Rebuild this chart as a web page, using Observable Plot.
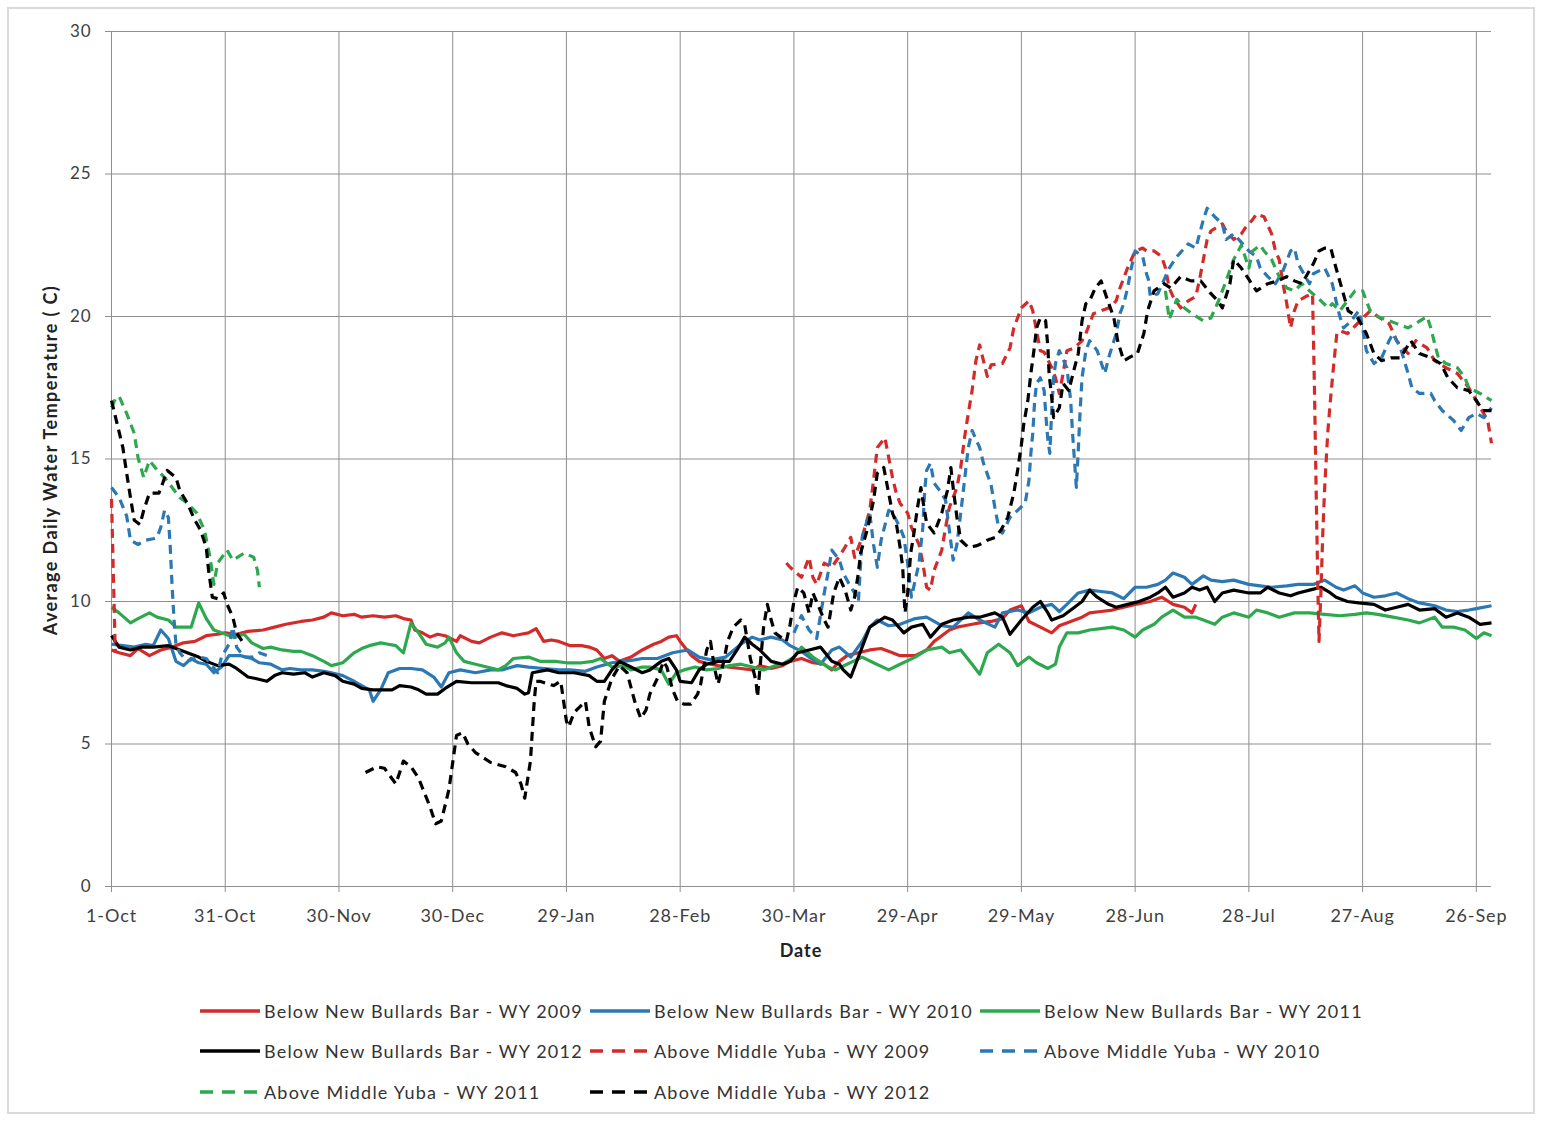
<!DOCTYPE html>
<html>
<head>
<meta charset="utf-8">
<script src="https://cdn.jsdelivr.net/npm/d3@7"></script>
<script src="https://cdn.jsdelivr.net/npm/@observablehq/plot@0.6"></script>
<style>
  html, body { margin: 0; padding: 0; background: #fff; }
  #wrap { position: relative; width: 1544px; height: 1122px; font-family: Lato, "Open Sans", sans-serif; color: #333; overflow: hidden; }
  #frame { position: absolute; left: 7px; top: 7px; width: 1528px; height: 1107px; border: 2px solid #dadada; box-sizing: border-box; }
  #chart { position: absolute; left: 0; top: 0; }
  #chart svg text { letter-spacing: 0.9px; }
  .lbl { position: absolute; font-weight: bold; font-size: 18px; color: #222; white-space: nowrap; letter-spacing: 1.4px; }
  #ylab { left: 50px; top: 460px; transform: translate(-50%, -50%) rotate(-90deg); }
  #xlab { left: 801px; top: 950px; transform: translate(-50%, -50%); letter-spacing: 1px; }
  .leg { position: absolute; display: flex; align-items: center; font-size: 18px; letter-spacing: 1.2px; color: #333; white-space: nowrap; transform: translateY(-50%); }
  .leg svg { margin-right: 4px; }
</style>
</head>
<body>
<div id="wrap">
  <div id="frame"></div>
  <div id="chart"></div>
  <div id="ylab" class="lbl">Average Daily Water Temperature ( C)</div>
  <div id="xlab" class="lbl">Date</div>
  <div id="legend"></div>
</div>
<script>
// ---- axis ticks ----
const tickDays = [0, 30, 60, 90, 120, 150, 180, 210, 240, 270, 300, 330, 360];
const tickLabels = ["1-Oct", "31-Oct", "30-Nov", "30-Dec", "29-Jan", "28-Feb", "30-Mar", "29-Apr", "29-May", "28-Jun", "28-Jul", "27-Aug", "26-Sep"];
const yTicks = [0, 5, 10, 15, 20, 25, 30];

// ---- series: [day since 1-Oct, temperature C]; null = gap ----
const belowWY2009 = [[0,8.3],[2,8.2],[5,8.1],[7,8.35],[10,8.1],[13,8.3],[16,8.4],[19,8.55],[22,8.6],[25,8.8],[28,8.85],[30,8.9],[33,8.85],[36,8.95],[40,9.0],[43,9.1],[46,9.2],[50,9.3],[53,9.35],[56,9.45],[58,9.6],[61,9.5],[64,9.55],[66,9.45],[69,9.5],[72,9.45],[75,9.5],[77,9.4],[79,9.35],[80,9.0],[82,8.9],[84,8.75],[86,8.85],[88,8.8],[91,8.6],[92,8.8],[95,8.6],[97,8.55],[100,8.75],[103,8.9],[106,8.8],[108,8.85],[110,8.9],[112,9.05],[114,8.6],[116,8.65],[118,8.6],[121,8.45],[124,8.45],[126,8.4],[128,8.3],[130,8.0],[132,8.1],[134,7.9],[137,8.05],[140,8.3],[143,8.5],[145,8.6],[147,8.75],[149,8.8],[150,8.6],[153,8.1],[155,7.9],[158,7.8],[160,7.75],[163,7.7],[166,7.65],[169,7.6],[171,7.75],[174,7.65],[177,7.75],[179,7.9],[182,8.0],[185,7.85],[188,7.8],[190,7.6],[192,7.9],[194,8.1],[197,8.2],[200,8.3],[203,8.35],[206,8.2],[208,8.1],[212,8.1],[215,8.3],[217,8.6],[219,8.8],[221,9.0],[223,9.1],[225,9.15],[227,9.2],[229,9.25],[232,9.3],[235,9.4],[237,9.7],[240,9.85],[242,9.3],[245,9.1],[248,8.9],[250,9.15],[253,9.3],[256,9.45],[258,9.6],[261,9.65],[264,9.7],[267,9.8],[270,9.9],[274,10.0],[277,10.15],[280,9.9],[283,9.8],[285,9.6],[286,9.9]];

const belowWY2010 = [[0,8.5],[3,8.45],[6,8.4],[9,8.5],[11,8.45],[13,9.0],[15,8.7],[17,7.9],[19,7.75],[21,8.0],[23,7.85],[25,7.8],[27,7.5],[29,7.7],[31,8.1],[34,8.1],[37,8.0],[39,7.85],[42,7.8],[45,7.6],[47,7.65],[50,7.6],[53,7.6],[56,7.55],[58,7.5],[61,7.4],[64,7.2],[66,7.05],[68,6.9],[69,6.5],[71,6.9],[73,7.5],[76,7.65],[79,7.65],[82,7.6],[85,7.35],[87,7.0],[89,7.5],[92,7.6],[96,7.5],[100,7.6],[103,7.6],[107,7.75],[110,7.7],[114,7.65],[118,7.6],[121,7.6],[125,7.55],[128,7.7],[132,7.85],[135,7.9],[138,7.95],[140,8.0],[144,8.0],[148,8.2],[152,8.3],[155,8.05],[158,7.95],[162,8.05],[166,8.5],[169,8.75],[171,8.65],[174,8.75],[177,8.65],[179,8.45],[182,8.25],[184,8.05],[187,7.8],[190,8.3],[192,8.4],[195,8.05],[198,8.6],[200,9.1],[202,9.35],[205,9.15],[208,9.2],[212,9.4],[215,9.45],[219,9.15],[222,9.1],[226,9.6],[229,9.35],[233,9.1],[235,9.6],[239,9.7],[242,9.6],[245,9.8],[248,9.9],[250,9.65],[252,9.9],[255,10.3],[258,10.4],[261,10.35],[264,10.3],[267,10.1],[270,10.5],[273,10.5],[276,10.6],[278,10.75],[280,11.0],[283,10.85],[285,10.6],[288,10.9],[290,10.75],[293,10.7],[296,10.75],[300,10.6],[303,10.55],[306,10.5],[310,10.55],[313,10.6],[317,10.6],[320,10.75],[323,10.5],[325,10.4],[328,10.55],[330,10.3],[333,10.15],[336,10.2],[339,10.3],[342,10.1],[345,9.95],[349,9.85],[352,9.7],[355,9.65],[358,9.7],[360,9.75],[364,9.85]];

const belowWY2011 = [[0,9.8],[2,9.6],[5,9.25],[7,9.4],[10,9.6],[12,9.45],[15,9.35],[17,9.1],[19,9.1],[21,9.1],[23,9.95],[25,9.4],[27,9.0],[29,8.9],[32,8.75],[35,8.85],[37,8.55],[40,8.35],[42,8.4],[45,8.3],[48,8.25],[50,8.25],[53,8.1],[56,7.9],[58,7.75],[61,7.85],[64,8.2],[66,8.35],[68,8.45],[71,8.55],[73,8.5],[75,8.45],[77,8.2],[79,9.25],[81,8.9],[83,8.5],[86,8.4],[88,8.55],[89,8.75],[91,8.2],[93,7.9],[96,7.8],[99,7.7],[102,7.6],[104,7.75],[106,8.0],[110,8.05],[113,7.9],[117,7.9],[120,7.85],[124,7.85],[127,7.9],[129,8.0],[132,7.7],[135,7.75],[137,7.6],[140,7.7],[142,7.7],[145,7.6],[147,7.1],[149,7.5],[151,7.6],[154,7.7],[157,7.6],[160,7.65],[163,7.75],[166,7.8],[169,7.7],[172,7.6],[175,7.75],[177,7.8],[180,8.05],[182,8.4],[185,8.05],[189,7.7],[191,7.6],[194,7.8],[198,8.05],[201,7.85],[205,7.6],[208,7.8],[212,8.05],[215,8.3],[219,8.4],[221,8.2],[224,8.3],[227,7.8],[229,7.45],[231,8.2],[234,8.5],[237,8.2],[239,7.75],[242,8.05],[244,7.85],[247,7.65],[249,7.8],[250,8.4],[252,8.9],[255,8.9],[258,9.0],[261,9.05],[264,9.1],[267,9.0],[270,8.75],[272,9.0],[275,9.2],[277,9.45],[280,9.7],[283,9.45],[286,9.45],[288,9.35],[291,9.2],[293,9.45],[296,9.6],[300,9.45],[302,9.7],[305,9.6],[308,9.45],[312,9.6],[316,9.6],[320,9.55],[324,9.5],[328,9.55],[331,9.6],[334,9.55],[338,9.45],[342,9.35],[345,9.25],[349,9.45],[351,9.1],[354,9.1],[357,9.0],[360,8.7],[362,8.9],[364,8.8]];

const belowWY2012 = [[0,8.8],[2,8.4],[5,8.3],[8,8.4],[11,8.4],[15,8.45],[17,8.35],[20,8.2],[23,8.05],[25,7.9],[28,7.75],[31,7.8],[33,7.65],[36,7.35],[38,7.3],[41,7.2],[43,7.4],[45,7.5],[48,7.45],[51,7.5],[53,7.35],[56,7.5],[59,7.4],[61,7.2],[64,7.1],[66,6.95],[69,6.9],[72,6.9],[74,6.9],[76,7.05],[79,7.0],[81,6.9],[83,6.75],[86,6.75],[88,6.95],[91,7.2],[95,7.15],[99,7.15],[102,7.15],[104,7.05],[107,6.95],[109,6.75],[110,6.8],[111,7.5],[115,7.6],[118,7.5],[122,7.5],[126,7.4],[128,7.2],[130,7.2],[132,7.6],[134,7.9],[137,7.7],[140,7.5],[142,7.6],[145,7.9],[147,8.0],[149,7.6],[150,7.2],[153,7.15],[155,7.6],[157,7.8],[160,7.9],[163,7.9],[165,8.3],[167,8.75],[169,8.5],[171,8.3],[174,7.9],[177,7.8],[179,7.9],[181,8.2],[184,8.3],[187,8.4],[190,7.9],[192,7.8],[193,7.6],[195,7.35],[198,8.4],[200,9.1],[204,9.45],[206,9.35],[209,8.9],[211,9.1],[214,9.2],[216,8.75],[219,9.2],[222,9.35],[226,9.45],[229,9.45],[233,9.6],[235,9.45],[237,8.85],[240,9.35],[243,9.8],[245,10.0],[247,9.6],[248,9.35],[251,9.5],[254,9.8],[256,10.0],[258,10.4],[260,10.15],[263,9.9],[265,9.8],[268,9.9],[271,10.0],[274,10.15],[276,10.3],[278,10.5],[280,10.15],[283,10.3],[285,10.5],[287,10.4],[289,10.5],[291,10.0],[293,10.3],[296,10.4],[300,10.3],[303,10.3],[305,10.5],[308,10.3],[311,10.2],[313,10.3],[316,10.4],[319,10.5],[321,10.35],[323,10.15],[326,10.0],[329,9.95],[333,9.9],[336,9.7],[339,9.8],[342,9.9],[345,9.7],[349,9.75],[352,9.45],[355,9.6],[358,9.45],[361,9.2],[364,9.25]];

const aboveWY2009 = [[0,13.6],[1,8.2],[2,null],[178,11.35],[179,11.2],[182,10.85],[184,11.55],[185,10.85],[186,10.6],[188,11.35],[190,11.2],[193,11.8],[195,12.25],[196,11.55],[198,12.25],[200,13.2],[201,14.25],[202,15.4],[204,15.75],[205,15.05],[206,14.35],[207,13.8],[208,13.45],[210,13.1],[211,12.6],[213,12.0],[214,11.35],[215,10.5],[216,10.4],[217,11.1],[219,11.8],[220,12.6],[221,13.3],[223,14.0],[224,14.7],[225,15.75],[226,16.6],[227,17.4],[228,18.45],[229,19.0],[231,17.9],[232,18.3],[235,18.35],[237,18.9],[238,19.6],[240,20.3],[242,20.55],[243,20.2],[244,19.5],[245,18.8],[246,18.75],[248,18.2],[249,17.85],[250,17.3],[251,18.0],[252,18.8],[254,18.9],[256,19.15],[257,19.4],[259,20.1],[261,20.2],[263,20.3],[265,20.55],[266,21.0],[268,21.7],[270,22.3],[272,22.4],[273,22.3],[275,22.3],[277,22.1],[278,21.7],[279,21.0],[280,20.7],[282,20.3],[284,20.55],[286,20.7],[287,21.3],[288,22.0],[289,22.7],[290,23.0],[293,23.25],[294,23.0],[296,22.7],[298,22.9],[299,23.1],[301,23.4],[302,23.6],[304,23.5],[306,22.9],[307,22.3],[308,22.0],[309,21.15],[310,20.45],[311,19.6],[312,20.2],[313,20.55],[315,20.7],[316.8,20.8],[317.3,17.5],[317.8,13.5],[318.2,10.5],[318.5,8.6],[319,10.3],[319.5,12.4],[320,14.0],[320.8,15.9],[321.5,17.05],[322.3,18.2],[323.2,19.4],[324,19.5],[326,19.4],[329,19.8],[332,20.2],[334,20.0],[337,19.75],[339,19.15],[342,18.7],[344,19.15],[347,18.9],[349,18.45],[352,18.2],[355,18.0],[358,17.5],[360,17.05],[363,16.35],[364,15.55]];

const aboveWY2010 = [[0,14.0],[2,13.65],[4,13.0],[5,12.15],[7,12.0],[9,12.15],[11,12.2],[12,12.25],[13,12.6],[14,13.2],[15,12.95],[15.5,11.9],[16,10.5],[16.5,9.35],[17,8.5],[18,8.2],[20,7.9],[23,8.05],[25,8.0],[28,7.5],[29,8.05],[31,8.5],[32,9.1],[33,8.4],[35,8.05],[37,8.05],[39,8.2],[42,8.05],[43,null],[180,8.9],[182,9.5],[184,9.0],[186,8.7],[187,9.5],[188,10.3],[189,11.0],[190,11.8],[192,11.45],[193,11.0],[195,10.5],[196,10.3],[197,10.0],[198,12.25],[199,12.7],[200,13.1],[201,12.0],[202,11.2],[203,12.15],[205,13.2],[206,13.1],[208,12.6],[209,12.25],[210,11.35],[211,10.15],[212,10.75],[213,11.35],[214,12.6],[214.5,13.9],[215,14.6],[216,14.85],[217,14.15],[219,13.8],[220,13.55],[221,12.5],[222,11.45],[223,12.0],[224,13.1],[225,14.25],[226,15.4],[227,16.0],[229,15.4],[230,14.85],[232,14.1],[233,13.3],[234,12.6],[235,12.4],[237,12.95],[239,13.2],[241,13.45],[242,14.25],[242.5,15.2],[243,15.9],[243.5,17.05],[244,17.65],[245,17.85],[246,17.4],[246.5,16.45],[247,15.65],[247.5,15.2],[248,16.7],[248.5,17.85],[249,18.35],[250,18.8],[252,18.2],[253,17.05],[253.5,15.9],[254,14.95],[254.5,14.0],[255,15.3],[255.5,16.7],[256,17.85],[257,18.8],[258,19.15],[260,18.8],[262,18.0],[263,18.55],[265,19.4],[266,20.1],[267,20.45],[268,21.0],[269,21.7],[270,22.3],[272,22.1],[273,21.5],[273.5,21.3],[274,20.7],[276,20.8],[278,21.4],[279,21.7],[281,22.1],[284,22.55],[286,22.4],[287,22.9],[288,23.4],[289,23.8],[291,23.5],[293,23.25],[294,22.7],[296,22.9],[298,22.6],[300,22.3],[302,22.1],[303,21.7],[305,21.4],[307,21.15],[309,21.6],[311,22.3],[312,22.4],[313,21.85],[316,21.15],[317,21.5],[320,21.7],[322,21.15],[323,20.55],[324,20.0],[325,19.6],[327,19.85],[329,20.2],[330,19.6],[331,18.8],[333,18.35],[335,18.55],[337,19.15],[338,19.4],[340,18.9],[342,18.0],[343,17.5],[345,17.3],[348,17.3],[349,17.05],[351,16.7],[354,16.35],[356,16.0],[358,16.45],[360,16.6],[362,16.45],[364,16.8]];

const aboveWY2011 = [[0,16.8],[1,17.1],[2,17.2],[4,16.6],[6,15.9],[7,15.05],[8.5,14.35],[10,14.95],[11.5,14.7],[14,14.35],[16,14.0],[18,13.65],[20,13.45],[22.5,13.1],[24.5,12.5],[26,11.55],[27,10.6],[28,11.35],[30.5,11.8],[32,11.45],[35,11.7],[37.5,11.55],[38.5,11.1],[39,10.5],[40,null],[278,20.9],[279,19.9],[281,20.6],[283,20.3],[285,20.1],[288,19.85],[290,19.95],[292,20.55],[294,21.25],[296,22.0],[298,22.5],[300,21.7],[301,22.3],[303,22.5],[304,22.3],[306,22.0],[308,21.4],[310,21.0],[312,20.9],[314,21.15],[316,20.9],[319,20.55],[321,20.3],[322,20.45],[324,20.2],[326,20.55],[328,20.9],[330,20.9],[332,20.2],[334,20.0],[337,19.85],[339,19.75],[342,19.6],[344,19.75],[347,20.0],[348,19.6],[349,19.05],[350,18.55],[352,18.35],[355,18.2],[357,17.85],[358,17.5],[361,17.3],[364,17.05]];

const aboveWY2012 = [[0,17.05],[1,16.5],[3,15.4],[4,14.5],[5,13.65],[6,12.85],[7.5,12.7],[8.5,13.2],[10,13.8],[12.5,13.8],[13.5,14.15],[14.7,14.6],[17,14.35],[18,13.9],[20,13.45],[22,12.85],[23.5,12.5],[25,11.9],[25.6,11.1],[26.6,10.15],[28,10.1],[29.6,10.3],[30.5,9.9],[32,9.45],[33,8.9],[35,8.5],[36,null],[67,4.0],[70,4.2],[72,4.15],[75,3.6],[77,4.4],[79,4.2],[81,3.8],[84,2.8],[85.5,2.2],[87,2.3],[89,3.4],[91,5.3],[92.6,5.4],[94,5.0],[96,4.7],[100,4.35],[104,4.2],[106.6,4.0],[108,3.6],[109,3.1],[110.5,4.4],[111.5,6.5],[112,7.2],[113,7.2],[116.6,7.05],[118.5,7.2],[120,5.8],[120.6,5.6],[122,6.1],[125,6.5],[126,5.6],[127.7,4.9],[129,5.1],[130,6.5],[132,7.3],[134,7.75],[136,7.5],[138,6.5],[139.6,5.9],[141,6.2],[142,6.75],[144,7.3],[145.6,7.9],[146.5,7.7],[148,6.9],[149.3,6.5],[151,6.4],[152.8,6.4],[154.6,6.75],[155.4,7.1],[157,8.3],[158,8.6],[159,7.7],[160,7.1],[161.5,7.9],[162.5,8.6],[164,9.1],[166,9.35],[167,9.2],[168.5,8.0],[170,7.2],[170.4,6.65],[171,7.6],[172,9.1],[173,9.9],[174,9.35],[175,8.9],[178,8.6],[179,9.2],[180,10.0],[181,10.5],[182.6,10.3],[184,9.6],[185,10.3],[186.6,9.8],[188,9.35],[189,9.1],[190.5,10.3],[192,10.85],[193.5,10.4],[195,9.7],[196,10.15],[197,11.0],[197.6,11.7],[199.5,12.6],[201,13.55],[202,14.5],[203.7,14.7],[204.7,14.0],[206,13.1],[207,12.75],[208,11.9],[208.7,11.2],[209,10.3],[209.3,9.6],[210,10.3],[210.8,11.7],[211.5,12.25],[212.6,13.3],[213.5,14.0],[214.3,13.3],[215,12.75],[217,12.4],[219,13.1],[220.5,13.9],[221.4,14.7],[222,14.0],[223,12.95],[224,12.15],[226,11.9],[228,11.95],[229,12.0],[231,12.15],[233,12.25],[234.6,12.5],[236.4,12.95],[238,13.8],[239,14.6],[240,15.5],[240.6,16.2],[241.7,17.05],[242.5,18.0],[243.3,18.8],[244,19.6],[245,19.95],[246.4,19.85],[247,18.9],[247.3,18.0],[248,17.15],[248.5,16.45],[250,16.8],[251,17.65],[252.5,17.4],[254,18.2],[255,18.7],[256,19.85],[257,20.45],[258,20.55],[259.5,21.0],[261,21.25],[262.8,20.55],[264.4,19.95],[265.4,19.15],[267,18.45],[269,18.6],[270.6,18.7],[272.3,19.4],[273.3,20.2],[275,20.9],[277.6,21.15],[279.4,21.0],[282,21.4],[284.7,21.25],[287.3,21.25],[290,20.8],[291.8,20.55],[293,20.3],[295,21.15],[296,22.0],[298,21.7],[300,21.3],[302,20.9],[305,21.15],[307.6,21.25],[310,21.4],[312,21.25],[314,21.15],[317,21.85],[318.5,22.3],[320,22.4],[321.6,22.4],[323,21.7],[324.5,21.0],[326.2,20.2],[328.5,20.0],[331,19.4],[333,18.7],[335,18.45],[337.5,18.55],[340,18.55],[342.7,19.15],[345,18.7],[348,18.55],[350.6,18.35],[352.5,17.85],[355,17.5],[358,17.4],[360,17.05],[361.7,16.7],[364,16.7]];

// ---- series styling / legend (draw order = legend order) ----
const seriesNames = [
  "Below New Bullards Bar - WY 2009", "Below New Bullards Bar - WY 2010", "Below New Bullards Bar - WY 2011",
  "Below New Bullards Bar - WY 2012", "Above Middle Yuba - WY 2009", "Above Middle Yuba - WY 2010",
  "Above Middle Yuba - WY 2011", "Above Middle Yuba - WY 2012"
];
const seriesData = [belowWY2009, belowWY2010, belowWY2011, belowWY2012, aboveWY2009, aboveWY2010, aboveWY2011, aboveWY2012];
const seriesColors = ["#d32a2a", "#2b78b4", "#2ea84f", "#000000", "#d32a2a", "#2b78b4", "#2ea84f", "#000000"];
const seriesDashed = [false, false, false, false, true, true, true, true];
const dash = "9,6";
const legendDash = "13,9";

const marks = [
  Plot.gridX(tickDays, {stroke: "#8f8f8f", strokeOpacity: 1, strokeWidth: 1}),
  Plot.gridY(yTicks, {stroke: "#8f8f8f", strokeOpacity: 1, strokeWidth: 1}),
  Plot.axisY({ticks: yTicks, tickSize: 6, tickPadding: 14, stroke: "#8f8f8f", label: null, fontSize: 17, fill: "#404040"}),
  Plot.axisX({ticks: tickDays, tickSize: 6, tickPadding: 17, stroke: "#8f8f8f", label: null, fontSize: 18, fill: "#404040",
    tickFormat: d => tickLabels[tickDays.indexOf(d)]})
];
seriesData.forEach((s, i) => {
  marks.push(Plot.line(s.map(([d, t]) => ({day: d, t: t})), {
    x: "day", y: "t", stroke: seriesColors[i], strokeWidth: 3.2,
    strokeDasharray: seriesDashed[i] ? dash : null, strokeLinejoin: "round", strokeLinecap: "butt"
  }));
});

const chart = Plot.plot({
  width: 1544, height: 960,
  marginLeft: 111, marginRight: 53, marginTop: 31, marginBottom: 74,
  style: {fontFamily: "Lato, 'Open Sans', sans-serif", fontSize: "17px", background: "transparent", color: "#404040"},
  x: {type: "linear", domain: [0, 364]},
  y: {domain: [0, 30]},
  marks
});
document.getElementById("chart").appendChild(chart);

// ---- legend ----
const legendPos = [
  [200, 1011], [590, 1011], [980, 1011],
  [200, 1051], [590, 1051], [980, 1051],
  [200, 1092], [590, 1092]
];
const legend = document.getElementById("legend");
seriesNames.forEach((name, i) => {
  const el = document.createElement("div");
  el.className = "leg";
  el.style.left = legendPos[i][0] + "px";
  el.style.top = legendPos[i][1] + "px";
  const dashAttr = seriesDashed[i] ? `stroke-dasharray="${legendDash}"` : "";
  el.innerHTML = `<svg width="60" height="10"><line x1="0" y1="5" x2="60" y2="5" stroke="${seriesColors[i]}" stroke-width="3.5" ${dashAttr}/></svg><span>${name}</span>`;
  legend.appendChild(el);
});
</script>
</body>
</html>
